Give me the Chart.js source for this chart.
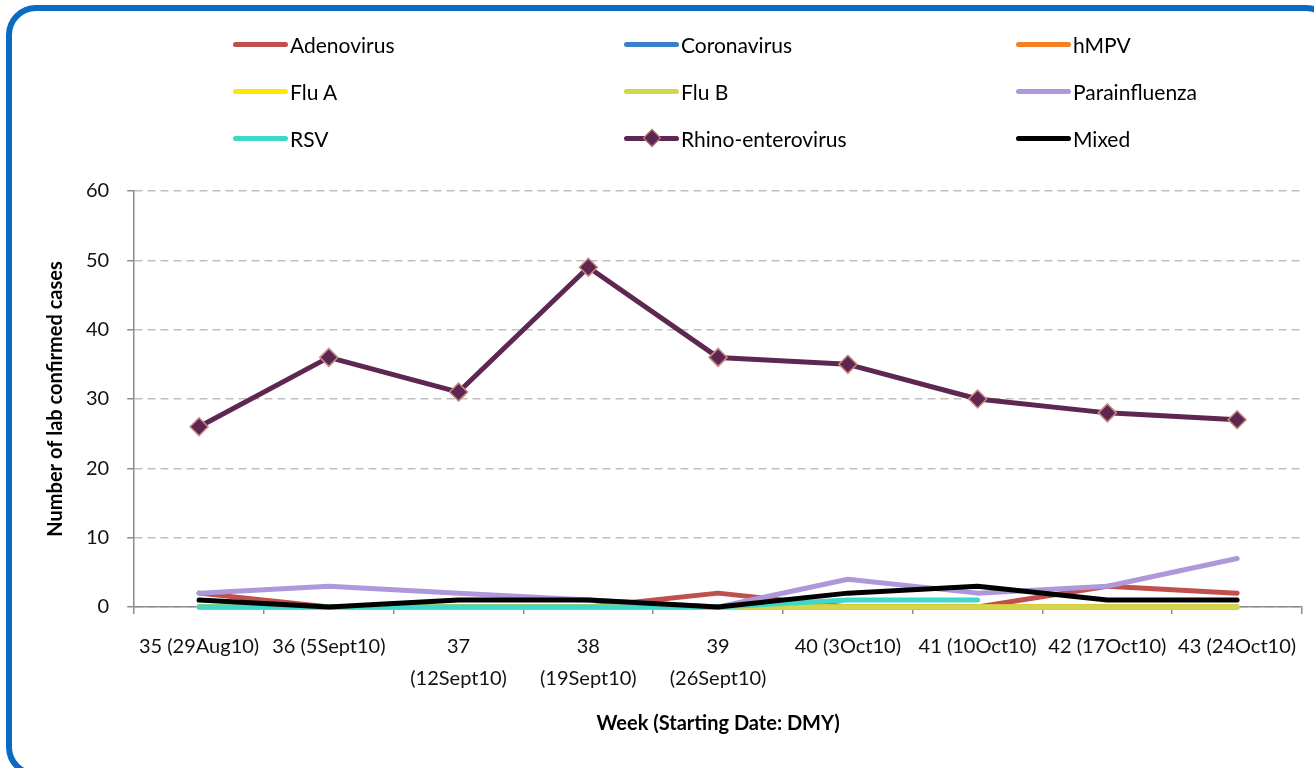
<!DOCTYPE html>
<html>
<head>
<meta charset="utf-8">
<script src="https://cdn.jsdelivr.net/npm/chart.js@4.4.1/dist/chart.umd.min.js"></script>
<style>
    html, body { margin: 0; padding: 0; background: #fff; }
    #wrap { position: relative; width: 1314px; height: 768px; overflow: hidden; font-family: Lato, 'Liberation Sans', sans-serif; }
    #frame { position: absolute; left: 6px; top: 5px; width: 1330px; height: 772px; box-sizing: border-box; border: 6px solid #0b6bc2; border-radius: 30px; }
    #chart { position: absolute; left: 0; top: 0; }
    .lg { position: absolute; display: flex; align-items: center; height: 30px; margin-top: -15px; font-size: 21px; color: #000; white-space: nowrap; }
    .lg .sw { position: relative; width: 55px; height: 5px; border-radius: 3px; margin-right: 2px; }
    .lg .mk { position: absolute; left: 50%; top: 50%; width: 13px; height: 13px; transform: translate(-50%, -50%) rotate(45deg); border: 1.5px solid #c98b80; box-sizing: border-box; }
</style>
</head>
<body>
<div id="wrap">
    <canvas id="chart" width="1314" height="768"></canvas>
    <div id="legend"></div>
    <div id="frame"></div>
</div>
<script>
// week labels (multi-line where the original wraps)
const weeks = ['35 (29Aug10)', '36 (5Sept10)', ['37', '(12Sept10)'], ['38', '(19Sept10)'], ['39', '(26Sept10)'],
    '40 (3Oct10)', '41 (10Oct10)', '42 (17Oct10)', '43 (24Oct10)'];

// lab confirmed cases per week
const adenovirus    = [2, 0, 0, 0, 2, 0, 0, 3, 2];
const coronavirus   = [0, 0, 0, 0, 0, 0, 0, 0, 0];
const hmpv          = [0, 0, 0, 0, 0, 0, 0, 0, 0];
const fluA          = [0, 0, 0, 0, 0, 0, 0, 0, 0];
const fluB          = [0, 0, 0, 0, 0, 0, 0, 0, 0];
const parainfluenza = [2, 3, 2, 1, 0, 4, 2, 3, 7];
const rsv           = [0, 0, 0, 0, 0, 1, 1, null, null];
const rhino         = [26, 36, 31, 49, 36, 35, 30, 28, 27];
const mixed         = [1, 0, 1, 1, 0, 2, 3, 1, 1];

const yTicks = [0, 10, 20, 30, 40, 50, 60];

const series = [
    { name: 'Adenovirus', values: adenovirus, color: '#c0504d' },
    { name: 'Coronavirus', values: coronavirus, color: '#3a80c8' },
    { name: 'hMPV', values: hmpv, color: '#f58025' },
    { name: 'Flu A', values: fluA, color: '#ffe600' },
    { name: 'Flu B', values: fluB, color: '#d2d64c' },
    { name: 'Parainfluenza', values: parainfluenza, color: '#ae98da' },
    { name: 'RSV', values: rsv, color: '#3dd8c8' },
    { name: 'Rhino-enterovirus', values: rhino, color: '#5e2752', marker: true },
    { name: 'Mixed', values: mixed, color: '#000000' }
];

const font = "Lato, 'Liberation Sans', sans-serif";
const axisGrey = '#8c8c8c';

const datasets = series.map((s, i) => ({
    label: s.name,
    data: s.values,
    borderColor: s.color,
    backgroundColor: s.color,
    borderWidth: 5,
    borderCapStyle: 'round',
    borderJoinStyle: 'round',
    tension: 0,
    clip: 12,
    order: series.length - i, // later series on top, like the original
    pointStyle: 'rectRot',
    pointRadius: s.marker ? 9 : 0,
    pointBackgroundColor: s.color,
    pointBorderColor: '#c98b80',
    pointBorderWidth: 1.5,
    spanGaps: false
}));

// html legend, three columns
const legend = document.getElementById('legend');
const colX = [233, 624, 1016];
const rowY = [44, 91, 138];
series.forEach((s, i) => {
    const item = document.createElement('div');
    item.className = 'lg';
    item.style.left = colX[i % 3] + 'px';
    item.style.top = rowY[Math.floor(i / 3)] + 'px';
    item.innerHTML = `<span class="sw" style="background:${s.color}">${s.marker ? `<span class="mk" style="background:${s.color}"></span>` : ''}</span><span>${s.name}</span>`;
    legend.appendChild(item);
});

new Chart(document.getElementById('chart'), {
    type: 'line',
    data: { labels: weeks, datasets },
    options: {
        responsive: false,
        animation: false,
        events: [],
        layout: { padding: { left: 44, right: 12, top: 191, bottom: 32 } },
        plugins: { legend: { display: false }, tooltip: { enabled: false } },
        scales: {
            x: {
                type: 'category',
                offset: true,
                grid: { offset: true, drawOnChartArea: false, drawTicks: true, tickLength: 7, color: axisGrey, lineWidth: 1.5 },
                border: { color: axisGrey, width: 1.5 },
                ticks: { autoSkip: false, maxRotation: 0, padding: 17, color: '#111', font: { family: font, size: 20, lineHeight: 1.6 } },
                title: { display: true, text: 'Week (Starting Date: DMY)', color: '#000', font: { family: font, size: 20, weight: 'bold', lineHeight: 1.2 }, padding: { top: 0, bottom: 0 } }
            },
            y: {
                min: 0,
                max: 60,
                afterBuildTicks: axis => { axis.ticks = yTicks.map(v => ({ value: v })); },
                grid: { color: '#c0c0c0', lineWidth: 1.5, drawTicks: true, tickLength: 7, tickColor: axisGrey, tickBorderDash: [] },
                border: { color: axisGrey, width: 1.5, dash: [8, 5] },
                ticks: { padding: 18, color: '#111', font: { family: font, size: 20 } },
                title: { display: true, text: 'Number of lab confirmed cases', color: '#000', font: { family: font, size: 20, weight: 'bold', lineHeight: 1.2 }, padding: { top: 0, bottom: 0 } }
            }
        }
    }
});
</script>
</body>
</html>
